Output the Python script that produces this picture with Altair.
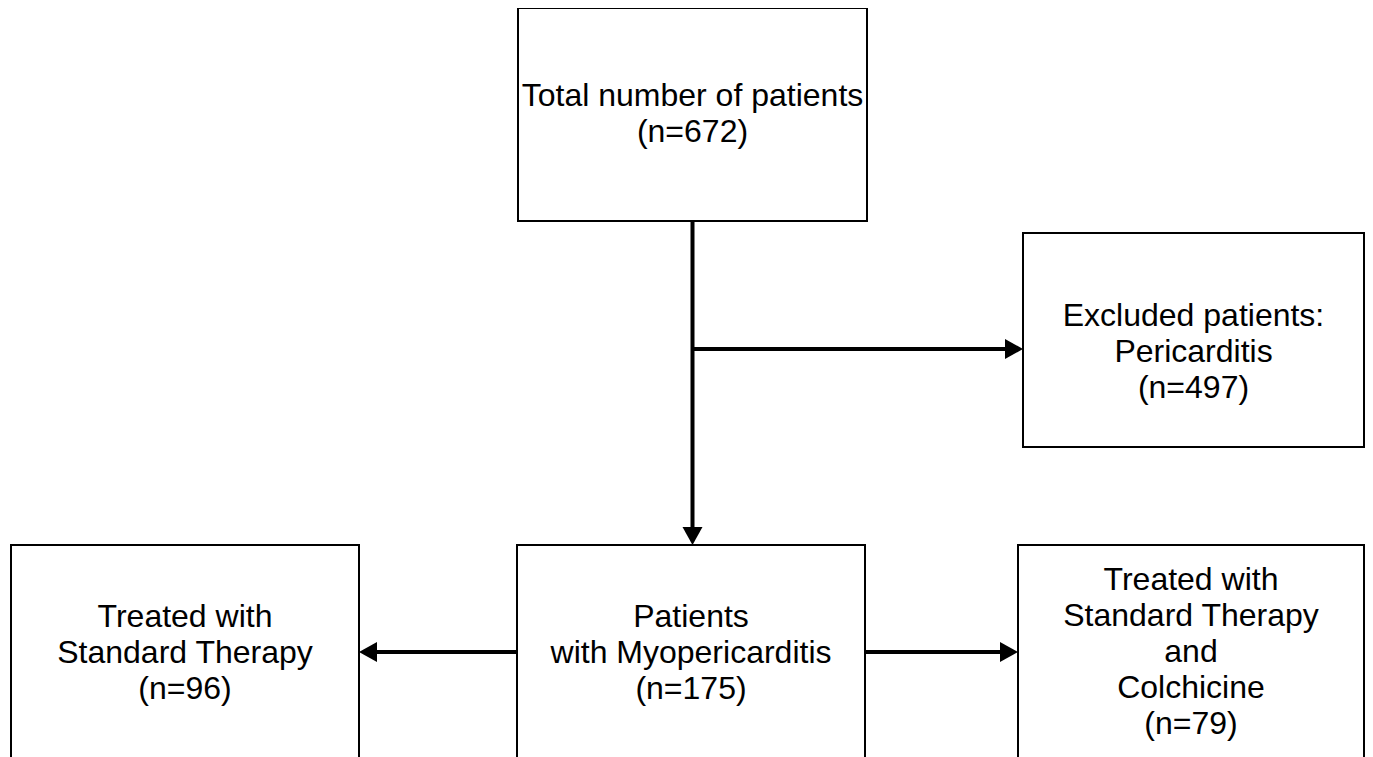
import altair as alt
import pandas as pd

# ---------------- data ----------------
node_ids = ["total", "excluded", "standard", "myo", "colchicine"]
node_labels = [
    "Total number of patients",
    "Excluded patients:\nPericarditis",
    "Treated with\nStandard Therapy",
    "Patients\nwith Myopericarditis",
    "Treated with\nStandard Therapy\nand\nColchicine",
]
node_counts = [672, 497, 96, 175, 79]

# edges: (source, target)
edge_src = ["total", "total", "myo", "myo"]
edge_dst = ["myo", "excluded", "standard", "colchicine"]

# ---------------- layout (page pixel space) ----------------
BOX = {  # left, right, top, bottom, first text baseline
    "total": (518, 867, 8, 221, 106),
    "excluded": (1023, 1364, 233, 447, 326),
    "standard": (11, 359, 545, 759, 627),
    "myo": (517, 865, 545, 759, 627),
    "colchicine": (1018, 1364, 545, 759, 590),
}
BRANCH_Y = 349
HEAD = 10        # half-size of arrow head symbol (px)
HEAD_LEN = 16    # where the shaft stops before the tip

boxes = pd.DataFrame({
    "id": node_ids,
    "x0": [BOX[i][0] for i in node_ids],
    "x1": [BOX[i][1] for i in node_ids],
    "y0": [BOX[i][2] for i in node_ids],
    "y1": [BOX[i][3] for i in node_ids],
    "tx": [(BOX[i][0] + BOX[i][1]) / 2 for i in node_ids],
    "ty": [BOX[i][4] for i in node_ids],
    "label": [f"{l}\n(n={c})" for l, c in zip(node_labels, node_counts)],
})

shafts, heads = [], []
trunk_x = (BOX["total"][0] + BOX["total"][1]) / 2
for s, d in zip(edge_src, edge_dst):
    sl, sr, st, sb, _ = BOX[s]
    dl, dr, dt, db, _ = BOX[d]
    if s == "total" and d == "myo":
        tip = dt
        shafts.append(dict(x=trunk_x, x2=trunk_x, y=sb, y2=tip - HEAD_LEN))
        heads.append(dict(x=trunk_x, y=tip - HEAD, dir="down"))
    elif s == "total":
        tip = dl
        shafts.append(dict(x=trunk_x, x2=tip - HEAD_LEN, y=BRANCH_Y, y2=BRANCH_Y))
        heads.append(dict(x=tip - HEAD, y=BRANCH_Y, dir="right"))
    else:
        ay = (st + sb) / 2
        if dr <= sl:  # target on the left
            tip = dr
            shafts.append(dict(x=sl, x2=tip + HEAD_LEN, y=ay, y2=ay))
            heads.append(dict(x=tip + HEAD, y=ay, dir="left"))
        else:
            tip = dl
            shafts.append(dict(x=sr, x2=tip - HEAD_LEN, y=ay, y2=ay))
            heads.append(dict(x=tip - HEAD, y=ay, dir="right"))

shafts = pd.DataFrame(shafts)
heads = pd.DataFrame(heads)

W, H = 1357, 749
xs = alt.Scale(domain=[8, 8 + W], nice=False, zero=False)
ys = alt.Scale(domain=[8, 8 + H], nice=False, zero=False, reverse=True)

rects = alt.Chart(boxes).mark_rect(fill="white", stroke="black", strokeWidth=2).encode(
    x=alt.X("x0:Q", scale=xs, axis=None),
    x2="x1:Q",
    y=alt.Y("y0:Q", scale=ys, axis=None),
    y2="y1:Q",
)

texts = alt.Chart(boxes).mark_text(
    font="Liberation Sans", fontSize=32, lineHeight=36, lineBreak="\n",
    align="center", baseline="alphabetic", color="black",
).encode(
    x=alt.X("tx:Q", scale=xs, axis=None),
    y=alt.Y("ty:Q", scale=ys, axis=None),
    text="label:N",
)

lines = alt.Chart(shafts).mark_rule(color="black", strokeWidth=4).encode(
    x=alt.X("x:Q", scale=xs, axis=None),
    x2="x2:Q",
    y=alt.Y("y:Q", scale=ys, axis=None),
    y2="y2:Q",
)

arrow_heads = alt.Chart(heads).mark_point(filled=True, color="black", opacity=1, size=(2 * HEAD) ** 2).encode(
    x=alt.X("x:Q", scale=xs, axis=None),
    y=alt.Y("y:Q", scale=ys, axis=None),
    shape=alt.Shape("dir:N", scale=alt.Scale(
        domain=["down", "right", "left"],
        range=["M-1,-0.8L1,-0.8L0,1Z", "M-0.8,-1L-0.8,1L1,0Z", "M0.8,-1L0.8,1L-1,0Z"],
    ), legend=None),
)

chart = alt.layer(lines, rects, texts, arrow_heads).properties(
    width=W, height=H, padding=0, autosize=alt.AutoSizeParams(type="none"), background="white",
).configure_view(stroke=None)

chart.save("out.html", embed_options={"renderer": "svg", "actions": False})
